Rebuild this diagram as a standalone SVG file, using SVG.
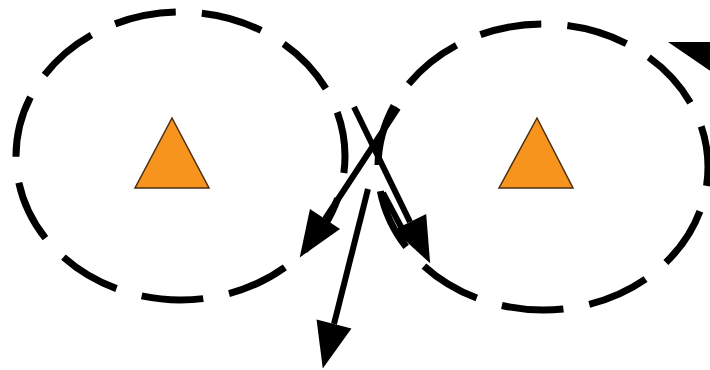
<svg xmlns="http://www.w3.org/2000/svg" width="710" height="370" viewBox="0 0 710 370">
<style>
.ring{fill:none;stroke:#000;stroke-width:7;stroke-dasharray:62 26.2}
.tri{fill:#F7941D;stroke:#4a2e12;stroke-width:1.5;stroke-linejoin:miter}
.edge{fill:none;stroke:#000;stroke-width:6;stroke-linecap:butt}
</style>
<defs>
<marker id="ah" markerUnits="userSpaceOnUse" markerWidth="50" markerHeight="40" refX="0" refY="18" orient="auto" overflow="visible">
<path d="M0,0 L46,18 L0,36 Z" fill="#000"/>
</marker>
</defs>
<rect width="710" height="370" fill="#fff"/>
<g id="nodeA">
<ellipse class="ring" cx="180.5" cy="156" rx="164.5" ry="144" stroke-dashoffset="45"/>
<polygon class="tri" points="172,118 135,188 209,188"/>
</g>
<g id="nodeB">
<ellipse class="ring" cx="543" cy="167" rx="165" ry="143" stroke-dashoffset="43"/>
<polygon class="tri" points="537,118 499,188 573,188"/>
</g>
<g id="corner">
<polygon points="668,42 712,42 712,72" fill="#000"/>
</g>
<g id="connectors">
<line class="edge" x1="398" y1="108" x2="325" y2="219" marker-end="url(#ah)"/>
<line class="edge" x1="354" y1="107" x2="410" y2="222" marker-end="url(#ah)"/>
<line class="edge" x1="383" y1="193" x2="407" y2="238"/>
<line class="edge" x1="368" y1="189" x2="334" y2="324" marker-end="url(#ah)"/>
</g>
</svg>
